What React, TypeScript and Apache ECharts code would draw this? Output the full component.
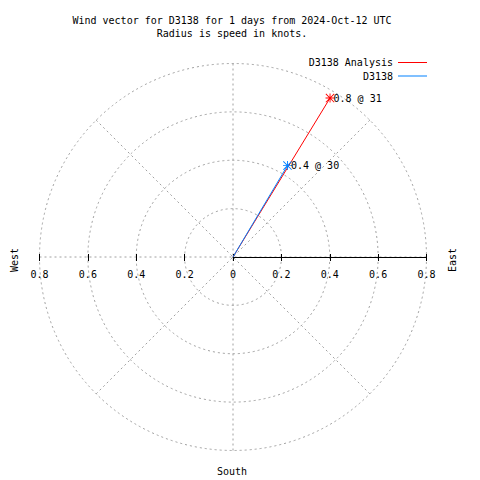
import React, { useEffect, useRef } from "react";
import * as echarts from "echarts";

const TITLE_LINES = [
  "Wind vector for D3138 for 1 days from 2024-Oct-12 UTC",
  "Radius is speed in knots.",
];
const SERIES_NAMES = ["D3138 Analysis", "D3138"];
const SERIES_COLORS = ["#ff0000", "#0080ff"];
const SPEED = [0.77, 0.44]; // knots
const DIRECTION = [31.4, 30.8]; // degrees, clockwise from north
const POINT_LABELS = ["0.8 @ 31", "0.4 @ 30"];
const RADIUS_MAX = 0.8;
const RADIUS_STEP = 0.2;
const SPOKE_STEP = 45;
const COMPASS_LABELS = ["West", "East", "South"];

const MONO = "'DejaVu Sans Mono', 'Liberation Mono', monospace";
const CX = 233;
const CY = 257;
const R = 193.5;

const STAR =
  "path://M0,4.5H10V5.5H0Z M4.5,0H5.5V10H4.5Z M0.7,0L10,9.3L9.3,10L0,0.7Z M9.3,0L10,0.7L0.7,10L0,9.3Z";

const GRID_LINE = { color: "#a0a0a0", type: [2, 3] as number[], width: 1 };

export default function App() {
  const ref = useRef<HTMLDivElement>(null);
  useEffect(() => {
    if (!ref.current) return;
    const chart = echarts.init(ref.current, undefined, { renderer: "svg" });

    const series = SERIES_NAMES.map((name, i) => ({
      name,
      type: "line",
      coordinateSystem: "polar",
      polarIndex: 0,
      color: SERIES_COLORS[i],
      itemStyle: { color: SERIES_COLORS[i] },
      lineStyle: { color: SERIES_COLORS[i], width: 1 },
      showSymbol: true,
      z: 10 + i,
      data: [
        { value: [0, 0], symbol: "none" },
        {
          value: [SPEED[i], DIRECTION[i]],
          symbol: STAR,
          symbolSize: 9,
          label: {
            show: true,
            position: "right",
            distance: -1,
            formatter: POINT_LABELS[i],
            color: "#000",
            fontSize: 10,
            fontFamily: MONO,
          },
        },
      ],
    }));

    const axisLabel = {
      color: "#000",
      fontSize: 10,
      fontFamily: MONO,
      margin: 12,
    };

    chart.setOption({
      animation: false,
      backgroundColor: "#fff",
      title: {
        text: TITLE_LINES.join("\n"),
        left: 232,
        top: 13.5,
        padding: 0,
        textAlign: "center",
        textStyle: {
          fontSize: 10,
          lineHeight: 13,
          fontWeight: "normal",
          fontFamily: MONO,
          color: "#000",
        },
      },
      legend: {
        orient: "vertical",
        right: 53,
        top: 56.5,
        padding: 0,
        align: "right",
        icon: "rect",
        itemWidth: 29,
        itemHeight: 1,
        itemGap: 1.5,
        textStyle: { fontSize: 10, fontFamily: MONO, color: "#000", lineHeight: 12 },
        data: SERIES_NAMES,
      },
      polar: [{ center: [CX, CY], radius: R }],
      angleAxis: [
        {
          polarIndex: 0,
          type: "value",
          min: 0,
          max: 360,
          interval: SPOKE_STEP,
          startAngle: 90,
          clockwise: true,
          axisLine: { show: false },
          axisTick: { show: false },
          axisLabel: { show: false },
          splitLine: { show: true, lineStyle: GRID_LINE },
        },
      ],
      radiusAxis: [
        {
          polarIndex: 0,
          type: "value",
          min: 0,
          max: RADIUS_MAX,
          interval: RADIUS_STEP,
          axisLine: { show: false },
          axisTick: { show: false },
          axisLabel: { show: false },
          splitLine: { show: true, lineStyle: GRID_LINE },
        },
      ],
      grid: [
        { left: CX - R, width: R, top: 0, height: CY, outerBoundsMode: "none", containLabel: false },
        { left: CX, width: R, top: 0, height: CY, outerBoundsMode: "none", containLabel: false },
      ],
      xAxis: [
        {
          gridIndex: 0,
          type: "value",
          min: -RADIUS_MAX,
          max: 0,
          interval: RADIUS_STEP,
          position: "bottom",
          z: 5,
          axisLine: { show: false },
          axisTick: { show: true, length: 4, lineStyle: { color: "#000" } },
          splitLine: { show: false },
          axisLabel: {
            ...axisLabel,
            formatter: (v: number) => (Math.abs(v) < 1e-9 ? "" : Math.abs(v).toFixed(1)),
          },
        },
        {
          gridIndex: 0,
          type: "value",
          min: -RADIUS_MAX,
          max: 0,
          interval: RADIUS_STEP,
          position: "bottom",
          z: 5,
          axisLine: { show: false },
          axisTick: { show: true, inside: true, length: 3, lineStyle: { color: "#000" } },
          splitLine: { show: false },
          axisLabel: { show: false },
        },
        {
          gridIndex: 1,
          type: "value",
          min: 0,
          max: RADIUS_MAX,
          interval: RADIUS_STEP,
          position: "bottom",
          z: 5,
          axisLine: { show: true, lineStyle: { color: "#000", width: 1 } },
          axisTick: { show: true, length: 4, lineStyle: { color: "#000" } },
          splitLine: { show: false },
          axisLabel: {
            ...axisLabel,
            formatter: (v: number) => (Math.abs(v) < 1e-9 ? "0" : v.toFixed(1)),
          },
        },
        {
          gridIndex: 1,
          type: "value",
          min: 0,
          max: RADIUS_MAX,
          interval: RADIUS_STEP,
          position: "bottom",
          z: 5,
          axisLine: { show: false },
          axisTick: { show: true, inside: true, length: 3, lineStyle: { color: "#000" } },
          splitLine: { show: false },
          axisLabel: { show: false },
        },
      ],
      yAxis: [
        { gridIndex: 0, type: "value", show: false },
        { gridIndex: 1, type: "value", show: false },
      ],
      graphic: [
        {
          type: "text",
          x: 14,
          y: 260,
          rotation: Math.PI / 2,
          style: {
            text: COMPASS_LABELS[0],
            fill: "#000",
            font: `10px ${MONO}`,
            textAlign: "center",
            textVerticalAlign: "middle",
          },
        },
        {
          type: "text",
          x: 452,
          y: 260,
          rotation: Math.PI / 2,
          style: {
            text: COMPASS_LABELS[1],
            fill: "#000",
            font: `10px ${MONO}`,
            textAlign: "center",
            textVerticalAlign: "middle",
          },
        },
        {
          type: "text",
          x: 232,
          y: 471,
          style: {
            text: COMPASS_LABELS[2],
            fill: "#000",
            font: `10px ${MONO}`,
            textAlign: "center",
            textVerticalAlign: "middle",
          },
        },
      ],
      series,
    });

    return () => chart.dispose();
  }, []);

  return (
    <div
      ref={ref}
      style={{ position: "absolute", left: 0, top: 0, width: 480, height: 480, background: "#fff" }}
    />
  );
}
